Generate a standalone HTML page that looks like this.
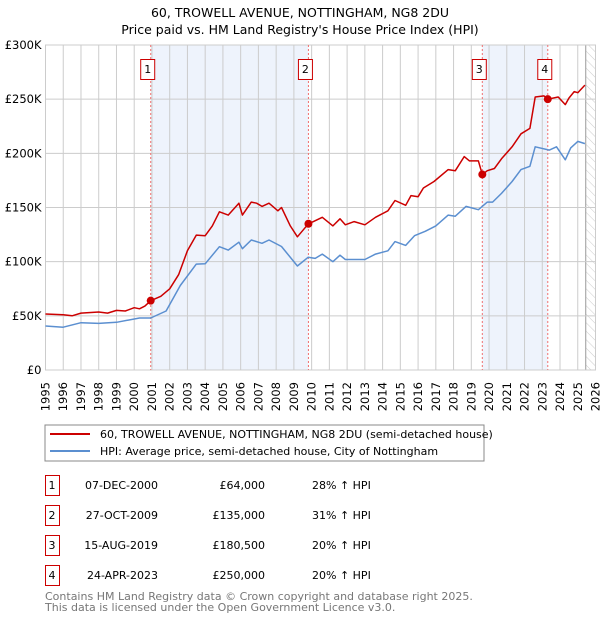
<!DOCTYPE html>
<html><head><meta charset="utf-8"><style>
body{margin:0;background:#fff;font-family:"DejaVu Sans","Liberation Sans",sans-serif;}
svg text{font-family:"DejaVu Sans","Liberation Sans",sans-serif;}
</style></head><body>
<svg id="chart" width="600" height="620" xmlns="http://www.w3.org/2000/svg">
<defs><pattern id="hatch" width="6" height="6" patternUnits="userSpaceOnUse" patternTransform="rotate(-45)"><line x1="0" y1="0" x2="0" y2="6" stroke="#ccc" stroke-width="1"/></pattern></defs>
<text x="300" y="17" text-anchor="middle" font-size="12.5">60, TROWELL AVENUE, NOTTINGHAM, NG8 2DU</text>
<text x="300" y="34" text-anchor="middle" font-size="12.5">Price paid vs. HM Land Registry's House Price Index (HPI)</text>
<g id="plot"></g>
<g>
<rect x="45" y="425" width="439" height="36" fill="#fff" stroke="#888"/>
<line x1="50" y1="434" x2="90" y2="434" stroke="#cc0000" stroke-width="2"/>
<text x="100" y="438" font-size="11">60, TROWELL AVENUE, NOTTINGHAM, NG8 2DU (semi-detached house)</text>
<line x1="50" y1="451" x2="90" y2="451" stroke="#5b8fd0" stroke-width="2"/>
<text x="100" y="455" font-size="11">HPI: Average price, semi-detached house, City of Nottingham</text>
</g>
<g id="table" font-size="11"></g>
<text x="45" y="600" font-size="11" fill="#777">Contains HM Land Registry data © Crown copyright and database right 2025.</text>
<text x="45" y="611" font-size="11" fill="#777">This data is licensed under the Open Government Licence v3.0.</text>
</svg>
<script>
const redYears=[1995,1996,1996.5,1997,1998,1998.5,1999,1999.5,2000,2000.3,2000.6,2000.93,2001.5,2002,2002.5,2003,2003.5,2004,2004.4,2004.8,2005.3,2005.9,2006.1,2006.6,2006.9,2007.2,2007.6,2008.1,2008.3,2008.8,2009.2,2009.82,2010.1,2010.6,2011.2,2011.6,2011.9,2012.4,2013,2013.6,2014.3,2014.7,2015.3,2015.6,2016,2016.3,2016.9,2017.7,2018.1,2018.6,2018.9,2019.4,2019.62,2019.9,2020.3,2020.7,2021.3,2021.8,2022.3,2022.6,2023.1,2023.31,2023.9,2024.3,2024.5,2024.8,2025,2025.4];
const redValues=[51.7,51,50,52.5,53.5,52.5,55,54.5,57.5,56.5,59,64,68,75,88,110,124.5,124,133,146,143,154,143,155,154,151,154,147,150,133,123,135,137,141,133,139.6,134,137,134,141,147,156.5,152,161,160,168,174,185,184,197,193,193,180.5,184,186,195,206,218,223,252,253,250,252,245,251,257,256,263];
const hpiYears=[1995,1996,1997,1998,1999,2000.3,2000.93,2001.8,2002.6,2003.5,2004,2004.8,2005.3,2005.9,2006.1,2006.6,2007.2,2007.6,2008.3,2009.2,2009.8,2010.2,2010.6,2011.2,2011.6,2011.9,2013,2013.6,2014.3,2014.7,2015.3,2015.8,2016.4,2017,2017.7,2018.1,2018.7,2019.4,2019.9,2020.2,2020.7,2021.3,2021.8,2022.3,2022.6,2023.4,2023.8,2024.3,2024.6,2025,2025.4];
const hpiValues=[40.6,39.5,43.7,43,44,48,48,54.5,78,97.8,98,113.8,110.7,118,112,120,117,120,114,96,104,103,107,100,106,102,102,107,110,118.5,115,124,128,133,143,142,151,148,155,155,163,174,185,188,206,203,206,194,205,211,209];
const yTicks=[0,50,100,150,200,250,300];
const yTickLabels=["£0","£50K","£100K","£150K","£200K","£250K","£300K"];
const xTicks=[1995,1996,1997,1998,1999,2000,2001,2002,2003,2004,2005,2006,2007,2008,2009,2010,2011,2012,2013,2014,2015,2016,2017,2018,2019,2020,2021,2022,2023,2024,2025,2026];
const saleYears=[2000.93,2009.82,2019.62,2023.31];
const saleValues=[64,135,180.5,250];
const saleLabels=["1","2","3","4"];
const saleDates=["07-DEC-2000","27-OCT-2009","15-AUG-2019","24-APR-2023"];
const salePrices=["£64,000","£135,000","£180,500","£250,000"];
const saleHpi=["28% ↑ HPI","31% ↑ HPI","20% ↑ HPI","20% ↑ HPI"];

const X0=45.5,X1=595.5,Y0=370,Y1=45;
const xs=y=>X0+(y-1995)/31*(X1-X0);
const ys=v=>Y0-v/300*(Y0-Y1);
const NS="http://www.w3.org/2000/svg";
const plot=document.getElementById('plot');
function mk(tag,attrs,parent){const e=document.createElementNS(NS,tag);for(const k in attrs)e.setAttribute(k,attrs[k]);(parent||plot).appendChild(e);return e;}
for(let i=0;i<4;i+=2){const r=mk('rect',{x:xs(saleYears[i]),y:Y1,width:xs(saleYears[i+1])-xs(saleYears[i]),height:Y0-Y1,fill:'#eef3fc'});

}
const hx=xs(2025.45);
const h=mk('rect',{x:hx,y:Y1,width:X1-hx,height:Y0-Y1,fill:'url(#hatch)'});


mk('line',{x1:hx,y1:Y1,x2:hx,y2:Y0,stroke:'#999','stroke-width':1});
xTicks.forEach(t=>{mk('line',{x1:xs(t),y1:Y1,x2:xs(t),y2:Y0,stroke:'#ccc','stroke-width':1});
const tx=mk('text',{x:0,y:0,'text-anchor':'end','font-size':11.5,transform:`translate(${(xs(t)+4).toFixed(1)},${Y0+12}) rotate(-90)`});tx.textContent=t;

});
yTicks.forEach((t,i)=>{mk('line',{x1:X0,y1:ys(t),x2:X1,y2:ys(t),stroke:'#ccc','stroke-width':1});
const tx=mk('text',{x:X0-4,y:ys(t)+4,'text-anchor':'end','font-size':11.5});tx.textContent=yTickLabels[i];

});
mk('rect',{x:X0,y:Y1,width:X1-X0,height:Y0-Y1,fill:'none',stroke:'#ccc'});
saleYears.forEach((s,i)=>{mk('line',{x1:xs(s),y1:Y1,x2:xs(s),y2:Y0,stroke:'#f07070','stroke-width':1,'stroke-dasharray':'2,2'});
const b=mk('rect',{x:xs(s)-10,y:59.5,width:14,height:20,fill:'#fff',stroke:'#cc0000'});


const t=mk('text',{x:xs(s)-3,y:73,'text-anchor':'middle','font-size':11});t.textContent=saleLabels[i];});
function line(xv,yv,color,name){const p=mk('path',{d:xv.map((x,i)=>(i?'L':'M')+xs(x).toFixed(1)+','+ys(yv[i]).toFixed(1)).join(''),fill:'none',stroke:color,'stroke-width':1.5,'stroke-linejoin':'round'});

}
line(hpiYears,hpiValues,'#5b8fd0','hpi-line');
line(redYears,redValues,'#cc0000','property-price-line');
saleYears.forEach((s,i)=>{const c=mk('circle',{cx:xs(s),cy:ys(saleValues[i]),r:4,fill:'#cc0000'});

});
const tb=document.getElementById('table');
saleLabels.forEach((l,i)=>{const y=475+i*30;
const r=mk('rect',{x:45.5,y:y+0.5,width:14,height:20,fill:'#fff',stroke:'#cc0000'},tb);


const vals=[[52,l,'middle'],[158,saleDates[i],'end'],[265,salePrices[i],'end'],[312,saleHpi[i],'start']];
vals.forEach(v=>{const t=mk('text',{x:v[0],y:y+14,'text-anchor':v[2]},tb);t.textContent=v[1];

});});
</script>
</body></html>
